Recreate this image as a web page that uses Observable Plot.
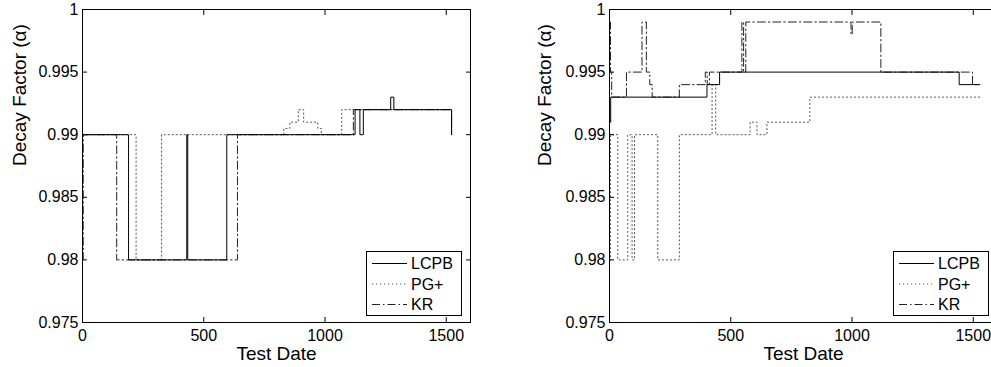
<!DOCTYPE html>
<html><head><meta charset="utf-8">
<script src="https://cdn.jsdelivr.net/npm/d3@7"></script>
<script src="https://cdn.jsdelivr.net/npm/@observablehq/plot@0.6"></script>
<style>
html,body{margin:0;padding:0;background:#fff;}
body{width:991px;height:367px;overflow:hidden;position:relative;font-family:"Liberation Sans",Arial,sans-serif;}
.panel{position:absolute;top:0;}
.panel svg{max-width:none !important;display:block;}
</style></head><body>
<div id="left" class="panel" style="left:0px;width:500px"></div>
<div id="right" class="panel" style="left:500px;width:520px"></div>
<script>
// ---- data (step values: [test date, decay factor]) ----
const seriesNames = ["LCPB", "PG+", "KR"];
const xTicks = [0, 500, 1000, 1500];
const yTicks = [0.975, 0.98, 0.985, 0.99, 0.995, 1];
const yTickLabels = ["0.975", "0.98", "0.985", "0.99", "0.995", "1"];
const xLabel = ["Test Date"];
const yLabel = ["Decay Factor (\u03B1)"];

// left panel
const lcpbLeft = [[0,0.99],[190,0.98],[430,0.99],[434,0.98],[595,0.99],[1124,0.992],[1144,0.99],[1158,0.992],[1271,0.993],[1284,0.992],[1522,0.99]];
const pgLeft = [[0,0.99],[221,0.98],[326,0.99],[830,0.9905],[855,0.991],[890,0.992],[912,0.991],[970,0.9905],[985,0.99],[1069,0.992],[1522,0.99]];
const krLeft = [[0,0.98],[3,0.99],[141,0.98],[639,0.99],[1117,0.992],[1522,0.99]];

// right panel
const lcpbRight = [[0,0.991],[5,0.993],[402,0.994],[454,0.995],[1442,0.994],[1527,0.994]];
const pgRight = [[0,0.98],[4,0.99],[34,0.98],[75,0.99],[93,0.98],[103,0.99],[199,0.98],[288,0.99],[423,0.994],[438,0.99],[580,0.991],[608,0.99],[649,0.991],[826,0.993],[1527,0.993]];
const krRight = [[0,0.999],[4,0.995],[9,0.993],[70,0.995],[134,0.999],[152,0.995],[166,0.994],[176,0.993],[288,0.994],[395,0.995],[403,0.994],[412,0.995],[546,0.999],[553,0.995],[562,0.999],[996,0.998],[1001,0.999],[1119,0.995],[1497,0.994],[1527,0.994]];

const styles = {
  "LCPB": {stroke: "#000", strokeDasharray: null, strokeWidth: 1},
  "PG+": {stroke: "#555", strokeDasharray: "1.2 2.8", strokeWidth: 1},
  "KR": {stroke: "#222", strokeDasharray: "8 3 1.5 3", strokeWidth: 1}
};

const FONT = "'Liberation Sans', Arial, Helvetica, sans-serif";

function panel(el, series, marginLeft, yLabelDx) {
  const plotW = 388;
  const mR = 13;
  const mT = 9, mB = 45;
  const width = marginLeft + plotW + mR;
  const height = 367;
  const lineMarks = [];
  [["PG+", series[1]], ["KR", series[2]], ["LCPB", series[0]]].forEach(([name, data]) => {
    const s = styles[name];
    lineMarks.push(Plot.line(data, {x: d => d[0], y: d => d[1], curve: "step-after",
      stroke: s.stroke, strokeWidth: s.strokeWidth, strokeDasharray: s.strokeDasharray}));
  });
  const chart = Plot.plot({
    width, height, marginLeft, marginRight: mR, marginTop: mT, marginBottom: mB,
    style: {fontFamily: FONT, fontSize: "16px", background: "white", overflow: "visible", color: "black", maxWidth: "none"},
    x: {domain: [0, 1600]},
    y: {domain: [0.975, 1]},
    marks: [
      ...lineMarks,
      Plot.frame({stroke: "black", strokeWidth: 1}),
      Plot.axisX({anchor: "bottom", ticks: xTicks, tickSize: 0, tickPadding: 7, tickFormat: d => String(d), fontSize: 16, label: null}),
      Plot.axisX({anchor: "bottom", ticks: xTicks, tickSize: 5, dy: -5, tickFormat: () => "", label: null}),
      Plot.axisX({anchor: "top", ticks: xTicks, tickSize: 5, dy: 5, tickFormat: () => "", label: null}),
      Plot.axisY({anchor: "left", ticks: yTicks, tickSize: 0, tickPadding: 4, tickFormat: d => yTickLabels[yTicks.indexOf(d)], fontSize: 16, label: null}),
      Plot.axisY({anchor: "left", ticks: yTicks, tickSize: 5, dx: 5, tickFormat: () => "", label: null}),
      Plot.axisY({anchor: "right", ticks: yTicks, tickSize: 5, dx: -5, tickFormat: () => "", label: null}),
      Plot.text(xLabel, {frameAnchor: "bottom", dy: 24, lineAnchor: "top", fontSize: 19, fill: "black"}),
      Plot.text(yLabel, {frameAnchor: "left", dx: yLabelDx, rotate: -90, lineAnchor: "top", fontSize: 19, fill: "black"})
    ]
  });
  el.appendChild(chart);
  // legend inside the plot frame, lower right
  const svg = d3.select(chart.tagName.toLowerCase() === "svg" ? chart : chart.querySelector("svg"));
  const plotRight = marginLeft + plotW;
  const plotBottom = height - mB;
  const bw = 95, bh = 64;
  const bx = plotRight - 9 - bw, by = plotBottom - 7 - bh;
  const g = svg.append("g").attr("text-anchor", "start");
  g.append("rect").attr("x", bx + 0.5).attr("y", by + 0.5).attr("width", bw).attr("height", bh)
    .attr("fill", "white").attr("stroke", "black").attr("stroke-width", 1);
  seriesNames.forEach((name, i) => {
    const s = styles[name];
    const cy = by + 12.5 + i * 20.5;
    const ln = g.append("line").attr("x1", bx + 6).attr("x2", bx + 41).attr("y1", cy).attr("y2", cy)
      .attr("stroke", s.stroke).attr("stroke-width", s.strokeWidth);
    if (s.strokeDasharray) ln.attr("stroke-dasharray", s.strokeDasharray);
    g.append("text").attr("x", bx + 45).attr("y", cy).attr("dy", "0.35em").attr("text-anchor", "start")
      .attr("font-size", 16).attr("font-family", FONT).attr("fill", "black").text(name);
  });
}

panel(document.getElementById("left"), [lcpbLeft, pgLeft, krLeft], 82, -70);
panel(document.getElementById("right"), [lcpbRight, pgRight, krRight], 109, -72);
</script>
</body></html>
